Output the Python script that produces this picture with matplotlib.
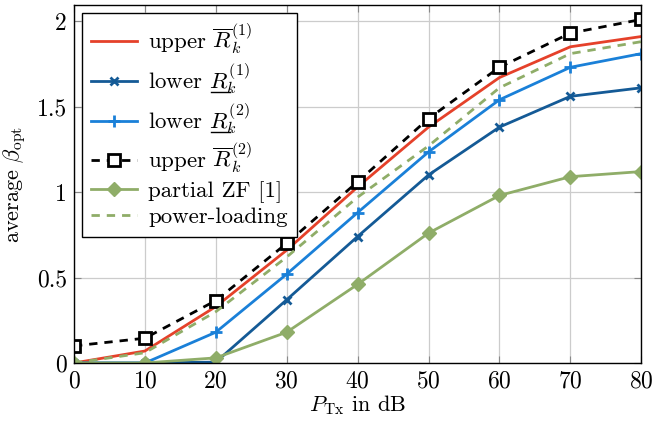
import matplotlib
matplotlib.use("Agg")
import matplotlib.pyplot as plt
from matplotlib.lines import Line2D
from matplotlib.ticker import FuncFormatter

plt.rcParams['font.family'] = 'serif'
plt.rcParams['font.serif'] = ['cmr10', 'DejaVu Serif']
plt.rcParams['mathtext.fontset'] = 'cm'
plt.rcParams['axes.formatter.use_mathtext'] = True
plt.rcParams['font.size'] = 16

# data
p_tx = [0, 10, 20, 30, 40, 50, 60, 70, 80]
upper_r1 = [0.0, 0.07, 0.33, 0.66, 1.03, 1.38, 1.67, 1.85, 1.91]
lower_r1 = [0.0, 0.0, 0.005, 0.37, 0.74, 1.10, 1.38, 1.56, 1.61]
lower_r2 = [0.0, 0.0, 0.18, 0.52, 0.88, 1.235, 1.54, 1.73, 1.81]
upper_r2 = [0.10, 0.145, 0.365, 0.70, 1.06, 1.43, 1.73, 1.93, 2.01]
partial_zf = [0.0, 0.0, 0.03, 0.18, 0.46, 0.76, 0.98, 1.09, 1.12]
power_loading = [0.0, 0.06, 0.30, 0.62, 0.97, 1.27, 1.61, 1.81, 1.88]

x_ticks = [0, 10, 20, 30, 40, 50, 60, 70, 80]
y_ticks = [0, 0.5, 1, 1.5, 2]

red = '#e5412a'
dblue = '#145a96'
lblue = '#1a80d8'
green = '#8fad68'

fig = plt.figure(figsize=(6.53, 4.24), dpi=100)
ax = fig.add_axes([0.1133, 0.1439, 0.982 - 0.1133, 0.988 - 0.1439])

ax.plot(p_tx, upper_r1, color=red, lw=2.0, label=r'upper $\overline{R}_k^{(1)}$')
ax.plot(p_tx, lower_r1, color=dblue, lw=2.0, marker='x', ms=6, mew=2,
        label=r'lower $R_k^{(1)}$')
ax.plot(p_tx, lower_r2, color=lblue, lw=2.0, marker='+', ms=9, mew=2,
        label=r'lower $R_k^{(2)}$')
ax.plot(p_tx, upper_r2, color='black', lw=2.0, ls=(0, (3, 2.5)), marker='s', ms=8.5,
        mew=2, mfc='white', label=r'upper $\overline{R}_k^{(2)}$')
ax.plot(p_tx, partial_zf, color=green, lw=2.0, marker='D', ms=7, mew=1,
        label='partial ZF [1]')
ax.plot(p_tx, power_loading, color=green, lw=2.0, ls=(0, (3, 2.5)),
        label='power-loading')

ax.set_xlim(0, 80)
ax.set_ylim(0, 2.094)
ax.set_xticks(x_ticks)
ax.set_yticks(y_ticks)
ax.yaxis.set_major_formatter(FuncFormatter(lambda v, p: '%g' % v))
ax.grid(True, color='#cccccc', lw=0.9)
ax.set_axisbelow(True)
ax.tick_params(direction='in', length=5, color='#888888', top=True, right=True,
               labelsize=17, pad=5)
for s in ax.spines.values():
    s.set_linewidth(1.0)

ax.set_xlabel(r'$P_{\mathrm{Tx}}$ in dB', labelpad=1)
ax.set_ylabel(r'average $\beta_{\mathrm{opt}}$', labelpad=6)

leg = ax.legend(loc='upper left', fancybox=False, framealpha=1, edgecolor='black',
                fontsize=16.5, handlelength=2.0, borderaxespad=0.35, labelspacing=0.2,
                handletextpad=0.5)
leg.get_frame().set_linewidth(1.0)

# mathtext has no \underline: draw the bar under R by hand
fig.canvas.draw()
renderer = fig.canvas.get_renderer()
inv = fig.transFigure.inverted()
for t in leg.get_texts():
    s = t.get_text()
    if not s.startswith('lower'):
        continue
    prop = t.get_fontproperties()
    bb = t.get_window_extent(renderer)
    w_all, _, d_all = renderer.get_text_width_height_descent(s, prop, ismath=True)
    w_math, _, _ = renderer.get_text_width_height_descent(s[s.index('$'):], prop, ismath=True)
    w_r, _, _ = renderer.get_text_width_height_descent('$R$', prop, ismath=True)
    _, _, d_lp = renderer.get_text_width_height_descent('lp', prop, ismath=False)
    x0 = bb.x0 + (w_all - w_math) + 1
    base = bb.y0 + max(d_all, d_lp)
    y = base - 3
    (fx0, fy), (fx1, _) = inv.transform([(x0, y), (x0 + w_r, y)])
    fig.add_artist(Line2D([fx0, fx1], [fy, fy], color='black', lw=1.0,
                          transform=fig.transFigure))

fig.savefig('out.png', dpi=100)
